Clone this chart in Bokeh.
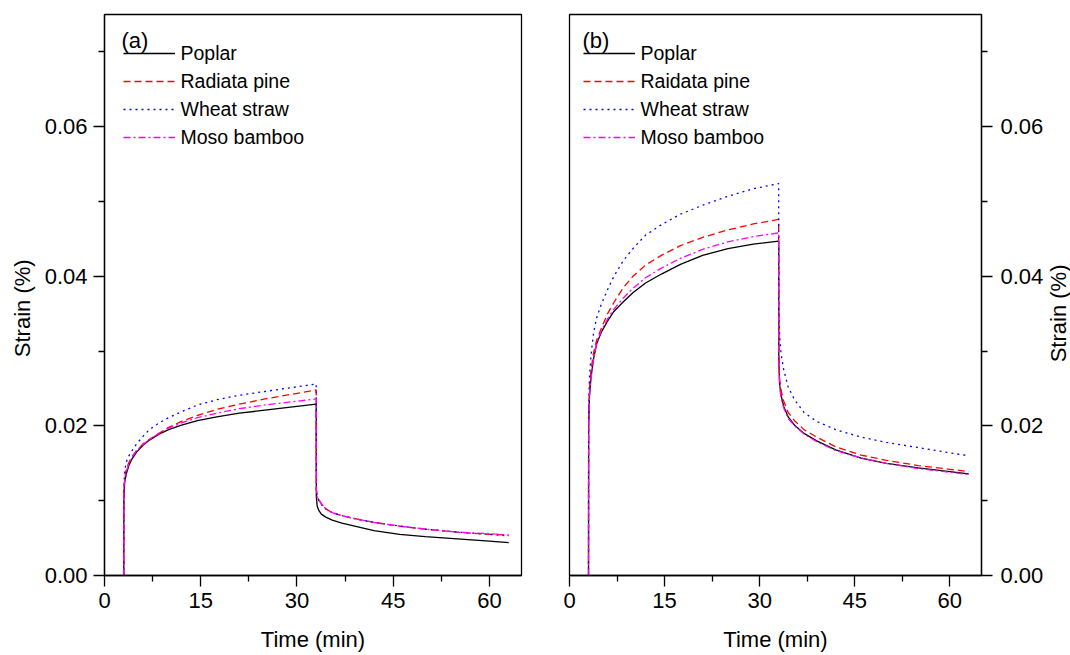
import math
from bokeh.plotting import figure
from bokeh.models import FixedTicker, PrintfTickFormatter, Legend, LegendItem, Label
from bokeh.layouts import row
from bokeh.core.properties import value
from bokeh.embed import file_html
from bokeh.resources import INLINE

# ---------------- data ----------------
time_min = [3.0, 3.02, 3.15, 3.4, 3.8, 4.3, 5.0, 6.0, 7.0, 8.5, 10.0, 12.0, 14.5, 17.5, 21.0, 25.0, 29.0, 33.0,
            33.02, 33.15, 33.4, 33.8, 34.5, 35.5, 37.0, 39.0, 42.0, 46.0, 50.0, 55.0, 60.0, 63.0]

x_ticks = [0, 15, 30, 45, 60]
x_minor = [7.5, 22.5, 37.5, 52.5]
y_ticks = [0.0, 0.02, 0.04, 0.06]
y_minor = [0.01, 0.03, 0.05, 0.07]

x_title = "Time (min)"
y_title = "Strain (%)"
names_a = ["Poplar", "Radiata pine", "Wheat straw", "Moso bamboo"]
names_b = ["Poplar", "Raidata pine", "Wheat straw", "Moso bamboo"]

a_poplar = [0, 0.0105, 0.0125, 0.0136, 0.0147, 0.0156, 0.0165, 0.0174, 0.0181, 0.0189, 0.0195, 0.0201, 0.0207,
            0.0212, 0.0217, 0.0221, 0.0225, 0.0229,
            0.0105, 0.0093, 0.0087, 0.0082, 0.0078, 0.0074, 0.0070, 0.0066, 0.0060, 0.0055, 0.0052, 0.0049,
            0.0046, 0.0044]
a_radiata = [0, 0.0115, 0.0130, 0.0142, 0.0151, 0.0159, 0.0167, 0.0176, 0.0182, 0.0190, 0.0198, 0.0206, 0.0214,
             0.0222, 0.0229, 0.0236, 0.0242, 0.0248,
             0.0116, 0.0106, 0.0101, 0.0096, 0.0089, 0.0084, 0.0080, 0.0076, 0.0071, 0.0066, 0.0062, 0.0058,
             0.0055, 0.0054]
a_wheat = [0, 0.0120, 0.0140, 0.0152, 0.0160, 0.0167, 0.0176, 0.0186, 0.0195, 0.0204, 0.0211, 0.0219, 0.0228,
           0.0235, 0.0241, 0.0246, 0.0251, 0.0256,
           0.0115, 0.0105, 0.0100, 0.0095, 0.0089, 0.0084, 0.0080, 0.0076, 0.0071, 0.0066, 0.0062, 0.0058,
           0.0055, 0.0053]
a_moso = [0, 0.0112, 0.0127, 0.0139, 0.0149, 0.0158, 0.0167, 0.0175, 0.0182, 0.0190, 0.0197, 0.0204, 0.0211,
          0.0217, 0.0223, 0.0228, 0.0232, 0.0236,
          0.0115, 0.0105, 0.0101, 0.0096, 0.0089, 0.0084, 0.0080, 0.0076, 0.0071, 0.0066, 0.0062, 0.0058,
          0.0056, 0.0054]

b_poplar = [0, 0.0200, 0.0240, 0.0265, 0.0290, 0.0310, 0.0325, 0.0340, 0.0353, 0.0366, 0.0378, 0.0391, 0.0403,
            0.0416, 0.0428, 0.0437, 0.0443, 0.0447,
            0.0290, 0.0255, 0.0240, 0.0226, 0.0212, 0.0201, 0.0190, 0.0180, 0.0168, 0.0157, 0.0150, 0.0144,
            0.0139, 0.0136]
b_radiata = [0, 0.0205, 0.0250, 0.0275, 0.0298, 0.0315, 0.0330, 0.0350, 0.0365, 0.0385, 0.0400, 0.0415, 0.0428,
             0.0441, 0.0452, 0.0462, 0.0470, 0.0476,
             0.0300, 0.0262, 0.0247, 0.0233, 0.0218, 0.0207, 0.0195, 0.0185, 0.0172, 0.0161, 0.0154, 0.0147,
             0.0142, 0.0139]
b_wheat = [0, 0.0220, 0.0265, 0.0295, 0.0325, 0.0345, 0.0362, 0.0382, 0.0400, 0.0421, 0.0437, 0.0455, 0.0469,
           0.0483, 0.0495, 0.0507, 0.0517, 0.0524,
           0.0360, 0.0320, 0.0295, 0.0275, 0.0252, 0.0235, 0.0218, 0.0206, 0.0195, 0.0185, 0.0178, 0.0171,
           0.0164, 0.0160]
b_moso = [0, 0.0200, 0.0240, 0.0265, 0.0290, 0.0311, 0.0327, 0.0343, 0.0356, 0.0371, 0.0384, 0.0398, 0.0411,
          0.0424, 0.0436, 0.0446, 0.0453, 0.0458,
          0.0290, 0.0252, 0.0237, 0.0224, 0.0210, 0.0200, 0.0189, 0.0179, 0.0167, 0.0157, 0.0150, 0.0143,
          0.0138, 0.0135]

# ---------------- style ----------------
FONT = "Liberation Sans"
COLORS = ["black", "#FF0000", "#0000FF", "#FF00FF"]
DASHES = ["solid", "7 4", "2 4", "7 3 2 3"]
H = 655


def title_strip(width, cx, cy):
    """Narrow figure holding the rotated y-axis title."""
    f = figure(width=width, height=H, x_range=(0, width), y_range=(0, H),
               output_backend="svg", toolbar_location=None, x_axis_type=None, y_axis_type=None,
               min_border_left=0, min_border_right=0, min_border_top=0, min_border_bottom=0)
    f.xgrid.visible = False
    f.ygrid.visible = False
    f.outline_line_color = None
    f.background_fill_color = "white"
    f.border_fill_color = "white"
    f.text(x=[cx], y=[H - cy], text=[y_title], angle=math.pi / 2, text_align="center",
           text_baseline="middle", text_font=value(FONT), text_font_size="22px", text_color="black")
    return f


def make_panel(width, border_left, border_right, side, tag, names, series, legend_x, tag_x, label_standoff):
    p = figure(width=width, height=H, x_range=(0, 65), y_range=(0, 0.075),
               output_backend="svg", toolbar_location=None, y_axis_location=side,
               min_border_left=border_left, min_border_right=border_right,
               min_border_top=14, min_border_bottom=80)
    p.xgrid.visible = False
    p.ygrid.visible = False
    p.outline_line_color = "black"
    p.outline_line_width = 1.3
    p.background_fill_color = "white"
    p.border_fill_color = "white"

    p.xaxis.ticker = FixedTicker(ticks=x_ticks, minor_ticks=x_minor)
    p.yaxis.ticker = FixedTicker(ticks=y_ticks, minor_ticks=y_minor)
    p.yaxis.formatter = PrintfTickFormatter(format="%.2f")
    p.xaxis.axis_label = x_title
    for ax in p.axis:
        ax.axis_line_color = "black"
        ax.axis_line_width = 1.3
        ax.major_tick_in = 0
        ax.major_tick_out = 11
        ax.minor_tick_in = 0
        ax.minor_tick_out = 6
        ax.major_tick_line_color = "black"
        ax.minor_tick_line_color = "black"
        ax.major_tick_line_width = 1.3
        ax.minor_tick_line_width = 1.3
        ax.major_label_text_font = FONT
        ax.major_label_text_font_size = "22px"
        ax.major_label_text_color = "black"
        ax.major_label_standoff = 6
        ax.axis_label_text_font = FONT
        ax.axis_label_text_font_size = "22px"
        ax.axis_label_text_font_style = "normal"
        ax.axis_label_text_color = "black"
    p.xaxis.axis_label_standoff = 16
    p.yaxis.major_label_standoff = label_standoff

    items = []
    for name, vals, c, d in zip(names, series, COLORS, DASHES):
        r = p.line(time_min, vals, line_color=c, line_width=1.3, line_dash=d)
        items.append(LegendItem(label=name, renderers=[r]))

    legend = Legend(items=items, location=(legend_x, 424), glyph_width=52, glyph_height=28,
                    label_height=28, label_standoff=6, spacing=0, padding=0, margin=0,
                    background_fill_alpha=0, border_line_alpha=0,
                    label_text_font=FONT, label_text_font_size="19.5px", label_text_color="black")
    p.add_layout(legend)

    p.add_layout(Label(x=tag_x, y=535, x_units="screen", y_units="screen", text=tag,
                       text_font=FONT, text_font_size="22px", text_color="black",
                       text_baseline="alphabetic"))
    return p


left_strip = title_strip(36, 22, 343)
p1 = make_panel(509, 68, 24, "left", "(a)", names_a, [a_poplar, a_radiata, a_wheat, a_moso],
                18.5, 17, 6)
p2 = make_panel(501, 24, 62, "right", "(b)", names_b, [b_poplar, b_radiata, b_wheat, b_moso],
                13.5, 13, 8)
right_strip = title_strip(24, 12, 349)

layout = row(left_strip, p1, p2, right_strip)
open("out.html", "w").write(file_html(layout, INLINE))
